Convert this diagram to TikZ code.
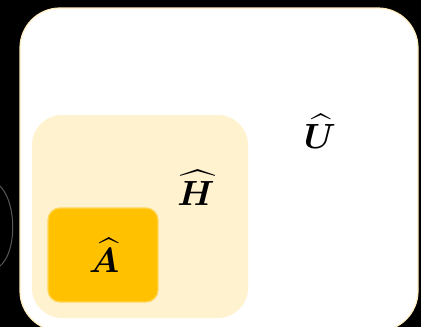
\documentclass[tikz,border=0pt]{standalone}
\usepackage{amsmath,bm}
\begin{document}
\begin{tikzpicture}[x=1pt,y=-1pt,
  box/.style={rounded corners=#1},
  lbl/.style={scale=3.5, inner sep=0pt}]
\fill[black] (0,0) rectangle (421,327);
\useasboundingbox (0,0) rectangle (421,327);
\begin{scope}
\clip (0,0) rectangle (421,327);
\draw[gray!60, line width=1pt, opacity=0.5] (0,186) .. controls (17,203) and (17,252) .. (0,266);
\draw[draw={rgb,255:red,255;green,236;blue,190}, line width=1.2pt, fill=white, box=40pt] (20,8) rectangle (418,331);
\fill[fill={rgb,255:red,255;green,242;blue,207}, box=30pt] (32,115) rectangle (248,318);
\draw[draw={rgb,255:red,255;green,214;blue,90}, line width=1.2pt, fill={rgb,255:red,255;green,193;blue,0}, box=12pt] (48,208) rectangle (158,302);
\end{scope}
\node[lbl] (U) at (320,131) {$\bm{\widehat{U}}$};
\node[lbl] (H) at (196,188) {$\bm{\widehat{H}}$};
\node[lbl] (A) at (104,255) {$\bm{\widehat{A}}$};
\end{tikzpicture}
\end{document}
